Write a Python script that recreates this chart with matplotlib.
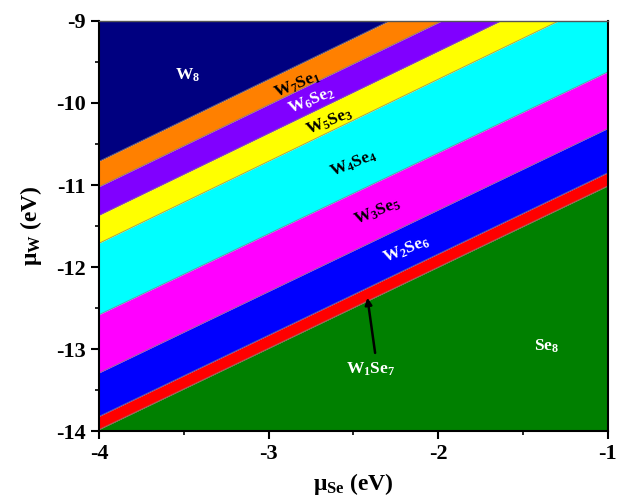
import matplotlib
matplotlib.use('Agg')
import matplotlib.pyplot as plt
import numpy as np

plt.rcParams['font.family'] = 'Liberation Serif'
plt.rcParams['font.weight'] = 'bold'
plt.rcParams['mathtext.default'] = 'regular'
plt.rcParams['axes.unicode_minus'] = False

# mu_Se range
x_ends = [-4.0, -1.0]
# phase boundaries (mu_W) at mu_Se = -4 and mu_Se = -1, top to bottom
left_bounds = [-10.71, -11.02, -11.37, -11.71, -12.58, -13.29, -13.82, -13.98]
right_bounds = [-7.71, -8.02, -8.37, -8.71, -9.62, -10.31, -10.85, -11.01]

phases = ['W$_8$', 'W$_7$Se$_1$', 'W$_6$Se$_2$', 'W$_5$Se$_3$', 'W$_4$Se$_4$',
          'W$_3$Se$_5$', 'W$_2$Se$_6$', 'W$_1$Se$_7$', 'Se$_8$']
colors = ['#000080', '#ff8000', '#8000ff', '#ffff00', '#00ffff',
          '#ff00ff', '#0000ff', '#ff0000', '#008000']

# label positions (mu_Se, mu_W), text colour, rotation
label_x = [-3.48, -2.83, -2.75, -2.64, -2.50, -2.36, -2.19, -2.40, -1.36]
label_y = [-9.66, -9.78, -9.97, -10.23, -10.74, -11.33, -11.79, -13.25, -12.97]
label_c = ['white', 'black', 'white', 'black', 'black', 'black', 'white', 'white', 'white']
label_rot = [0, 22, 22, 22, 22, 22, 22, 0, 0]

fig = plt.figure(figsize=(6.19, 4.99), dpi=100)
ax = fig.add_axes([0.160, 0.136, 0.822, 0.822])

top = [-9.0, -9.0]
bottom = [-14.0, -14.0]
uppers = [top] + [[l, r] for l, r in zip(left_bounds, right_bounds)]
lowers = [[l, r] for l, r in zip(left_bounds, right_bounds)] + [bottom]

for up, lo, c in zip(uppers, lowers, colors):
    ax.fill_between(x_ends, lo, up, color=c, lw=0)
for l, r in zip(left_bounds, right_bounds):
    ax.plot(x_ends, [l, r], color='#808080', lw=0.6, alpha=0.8)

for name, lx, ly, lc, rot in zip(phases, label_x, label_y, label_c, label_rot):
    ax.text(lx, ly, name, color=lc, fontsize=12.5, fontweight='bold',
            rotation=rot, ha='center', va='center', rotation_mode='anchor')

ax.annotate('', xy=(-2.42, -12.34), xytext=(-2.37, -13.08),
            arrowprops=dict(arrowstyle='-|>', color='black', lw=1.8, mutation_scale=10))

ax.set_xlim(-4, -1)
ax.set_ylim(-14, -9)
ax.set_xticks([-4, -3, -2, -1])
ax.set_yticks([-14, -13, -12, -11, -10, -9])
ax.set_xticks(np.arange(-3.5, -1, 1.0), minor=True)
ax.set_yticks(np.arange(-13.5, -9, 1.0), minor=True)
ax.tick_params(which='major', direction='out', length=6, width=1.5, labelsize=16)
ax.tick_params(which='minor', direction='out', length=3, width=1.2)
for lab in ax.get_xticklabels() + ax.get_yticklabels():
    lab.set_fontweight('bold')
for s in ax.spines.values():
    s.set_linewidth(1.5)
ax.spines['top'].set_color('#555555')
ax.spines['top'].set_linewidth(1.0)

ax.set_xlabel('μ$_{Se}$ (eV)', fontsize=17, fontweight='bold', labelpad=5)
ax.set_ylabel('μ$_W$ (eV)', fontsize=17, fontweight='bold', labelpad=9)

fig.savefig('out.png', dpi=100)
